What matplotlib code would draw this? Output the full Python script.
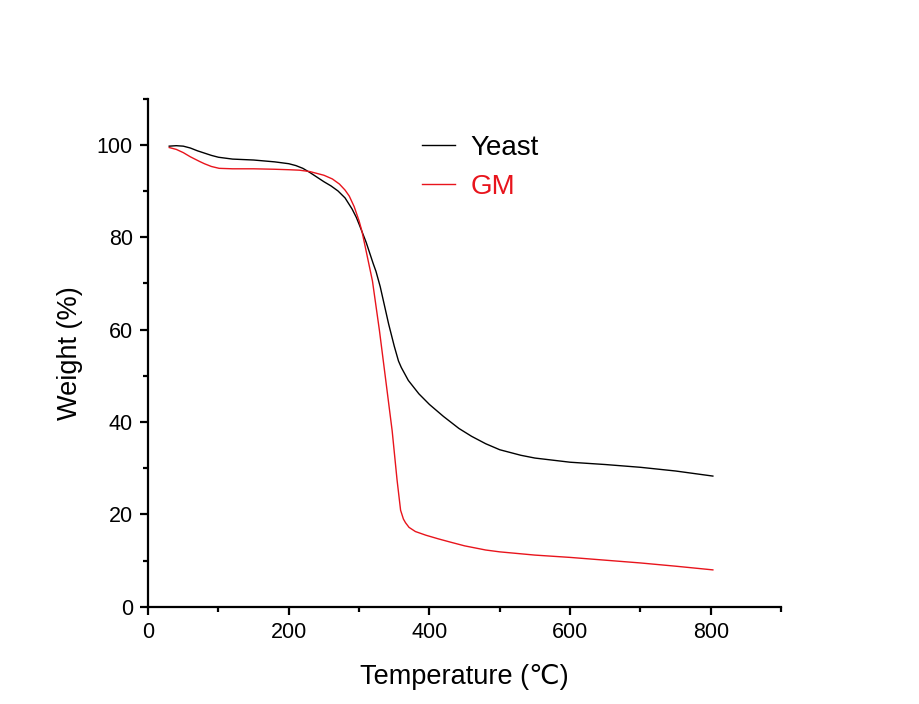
import matplotlib
matplotlib.use("Agg")
import matplotlib.pyplot as plt
from matplotlib.ticker import MultipleLocator

plt.rcParams['font.family'] = ['Liberation Sans', 'DejaVu Sans', 'Noto Sans CJK SC']

# thermogravimetric curves
yeast_t = [30, 40, 50, 60, 70, 80, 90, 100, 120, 150, 180, 200, 210, 220, 230,
           240, 250, 260, 270, 280, 290, 296, 300, 310, 320, 324, 330, 342, 350,
           356, 360, 370, 385, 400, 420, 442, 460, 480, 500, 530, 550, 600, 650,
           700, 750, 803]
yeast_w = [99.7, 99.8, 99.7, 99.3, 98.7, 98.2, 97.7, 97.3, 96.9, 96.7, 96.3,
           95.9, 95.5, 94.9, 94.0, 93.0, 92.0, 91.1, 90.0, 88.5, 86.1, 84.3,
           82.8, 78.9, 74.3, 72.6, 69.3, 61.2, 56.4, 53.2, 51.8, 49.0, 46.1,
           43.8, 41.2, 38.6, 36.9, 35.3, 34.0, 32.8, 32.2, 31.3, 30.8, 30.2,
           29.4, 28.3]

gm_t = [30, 40, 50, 60, 73, 80, 90, 101, 120, 150, 180, 200, 215, 230, 240,
        250, 262, 272, 280, 286, 293, 300, 304, 310, 319, 329, 338, 347, 354,
        359, 363, 366, 371, 380, 395, 413, 430, 450, 480, 500, 550, 600, 650,
        700, 750, 803]
gm_w = [99.4, 99.0, 98.3, 97.4, 96.4, 95.9, 95.3, 94.9, 94.8, 94.8, 94.7, 94.6,
        94.5, 94.2, 93.8, 93.4, 92.6, 91.5, 90.2, 88.9, 86.6, 83.5, 81.3, 77.0,
        70.5, 59.7, 48.9, 38.1, 27.4, 20.9, 19.0, 18.2, 17.2, 16.3, 15.5, 14.7,
        14.0, 13.2, 12.3, 11.9, 11.2, 10.7, 10.1, 9.5, 8.8, 8.0]

fig = plt.figure(figsize=(9.2, 7.04), dpi=100)
ax = fig.add_axes([0.161, 0.138, 0.688, 0.722])

ax.plot(yeast_t, yeast_w, color='black', lw=1.0, label='Yeast')
ax.plot(gm_t, gm_w, color='#e8141c', lw=1.0, label='GM')

ax.set_xlim(0, 900)
ax.set_ylim(0, 110)
ax.xaxis.set_major_locator(MultipleLocator(200))
ax.xaxis.set_minor_locator(MultipleLocator(100))
ax.yaxis.set_major_locator(MultipleLocator(20))
ax.yaxis.set_minor_locator(MultipleLocator(10))

for s in ['top', 'right']:
    ax.spines[s].set_visible(False)
for s in ['left', 'bottom']:
    ax.spines[s].set_linewidth(1.6)

ax.tick_params(which='major', direction='out', length=6, width=1.6, labelsize=15.5, pad=5)
ax.tick_params(which='minor', direction='out', length=3.5, width=1.6)

ax.set_xlabel('Temperature (℃)', fontsize=19.5, labelpad=15)
ax.set_ylabel('Weight (%)', fontsize=19.5, labelpad=10)

leg = ax.legend(loc='upper left', bbox_to_anchor=(0.432, 0.928), frameon=False,
                fontsize=20, handlelength=1.2, handletextpad=0.55,
                labelspacing=0.45, borderpad=0, borderaxespad=0)
for txt, c in zip(leg.get_texts(), ['black', '#e8141c']):
    txt.set_color(c)

plt.savefig('out.png', dpi=100)
